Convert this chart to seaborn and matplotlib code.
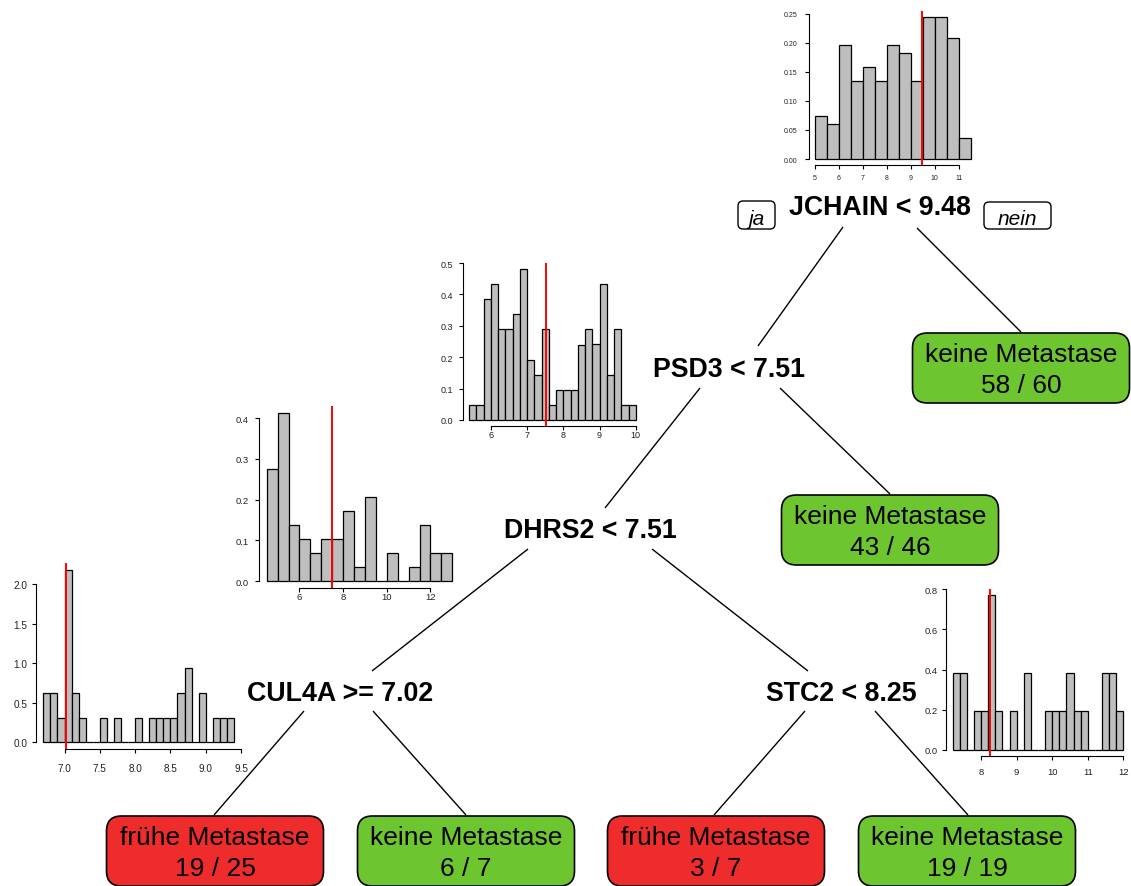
import numpy as np
import pandas as pd
import matplotlib
matplotlib.use("Agg")
import matplotlib.pyplot as plt
from matplotlib.patches import FancyBboxPatch
import seaborn as sns

# ---------------------------------------------------------------------------
# Expression histograms shown at each split: first bin edge, bin width, counts
# ---------------------------------------------------------------------------
jchain_start, jchain_width = 5.0, 0.5
jchain_counts = [6, 5, 16, 11, 13, 11, 16, 15, 11, 20, 20, 17, 3]
jchain_split = 9.48

psd3_start, psd3_width = 5.4, 0.2
psd3_counts = [1, 1, 8, 9, 6, 6, 7, 10, 4, 3, 6, 1, 2, 2, 2, 5, 6, 5, 9, 3, 6, 1, 1]
psd3_split = 7.51

dhrs2_start, dhrs2_width = 4.5, 0.5
dhrs2_counts = [8, 12, 4, 3, 2, 3, 3, 5, 1, 6, 0, 2, 0, 1, 4, 2, 2]
dhrs2_split = 7.51

cul4a_start, cul4a_width = 6.7, 0.1
cul4a_counts = [2, 2, 1, 7, 2, 1, 0, 0, 1, 0, 1, 0, 0, 1, 0, 1, 1, 1, 1, 2, 3, 0, 2,
                0, 1, 1, 1]
cul4a_split = 7.02

stc2_start, stc2_width = 7.2, 0.2
stc2_counts = [2, 2, 0, 1, 1, 4, 1, 0, 1, 0, 2, 0, 0, 1, 1, 1, 2, 1, 1, 0, 0, 2, 2, 1]
stc2_split = 8.25

# Split labels and leaf outcomes
split_labels = ["JCHAIN < 9.48", "PSD3 < 7.51", "DHRS2 < 7.51",
                "CUL4A >= 7.02", "STC2 < 8.25"]
leaf_classes = ["keine Metastase", "keine Metastase", "frühe Metastase",
                "keine Metastase", "frühe Metastase", "keine Metastase"]
leaf_correct = [58, 43, 19, 6, 3, 19]
leaf_total = [60, 46, 25, 7, 7, 19]
branch_labels = ["ja", "nein"]

# Tick labels of the histogram axes
jchain_xticks = ["5", "6", "7", "8", "9", "10", "11"]
jchain_yticks = ["0.00", "0.05", "0.10", "0.15", "0.20", "0.25"]
psd3_xticks = ["6", "7", "8", "9", "10"]
psd3_yticks = ["0.0", "0.1", "0.2", "0.3", "0.4", "0.5"]
dhrs2_xticks = ["6", "8", "10", "12"]
dhrs2_yticks = ["0.0", "0.1", "0.2", "0.3", "0.4"]
cul4a_xticks = ["7.0", "7.5", "8.0", "8.5", "9.0", "9.5"]
cul4a_yticks = ["0.0", "0.5", "1.0", "1.5", "2.0"]
stc2_xticks = ["8", "9", "10", "11", "12"]
stc2_yticks = ["0.0", "0.2", "0.4", "0.6", "0.8"]

# ---------------------------------------------------------------------------
W, H = 1131, 887
sns.set_style("white")
plt.rcParams["font.family"] = ["Liberation Sans", "DejaVu Sans"]

fig = plt.figure(figsize=(W / 100, H / 100), dpi=100)
fig.patch.set_facecolor("white")

# Canvas in pixel units for the tree itself
ax0 = fig.add_axes([0, 0, 1, 1])
ax0.set_xlim(0, W)
ax0.set_ylim(H, 0)
ax0.axis("off")

GREEN = "#6dc52f"
RED = "#ee2c2c"

# Branches (parent -> child)
branches = [
    ((843, 228), (758, 347)),
    ((917, 229), (1021, 333)),
    ((700, 389), (605, 509)),
    ((780, 389), (890, 495)),
    ((528, 550), (372, 672)),
    ((652, 550), (808, 672)),
    ((304, 712), (214, 816)),
    ((373, 712), (466, 816)),
    ((805, 712), (714, 816)),
    ((875, 712), (968, 816)),
]
for (x1, y1), (x2, y2) in branches:
    ax0.plot([x1, x2], [y1, y2], color="black", lw=1.0, solid_capstyle="butt")

# Split labels
split_pos = [(880, 215), (729, 377), (590, 538), (340, 701), (841, 701)]
for lab, (x, y) in zip(split_labels, split_pos):
    ax0.text(x, y, lab, ha="center", va="baseline", fontsize=19.3,
             fontweight="bold", color="black")

# "ja" / "nein" tags at the root
tag_boxes = [(738, 202, 37, 28), (984, 203, 67, 27)]
for lab, (x, y, w, h) in zip(branch_labels, tag_boxes):
    ax0.add_patch(FancyBboxPatch((x, y), w, h,
                                 boxstyle="round,pad=0,rounding_size=5",
                                 fc="white", ec="black", lw=1.0))
    ax0.text(x + w / 2, 225, lab, ha="center", va="baseline", fontsize=15,
             style="italic", color="black")

# Leaves
leaf_pos = [(1021, 334), (890, 496), (215, 817), (466, 817), (716, 817), (967, 817)]
LEAF_W, LEAF_H = 217, 70
for cls, ok, tot, (cx, top) in zip(leaf_classes, leaf_correct, leaf_total, leaf_pos):
    fc = RED if cls.startswith("frühe") else GREEN
    ax0.add_patch(FancyBboxPatch((cx - LEAF_W / 2, top), LEAF_W, LEAF_H,
                                 boxstyle="round,pad=0,rounding_size=15",
                                 fc=fc, ec="black", lw=1.2, zorder=3))
    ax0.text(cx, top + 28, cls, ha="center", va="baseline", fontsize=19,
             color="black", zorder=4)
    ax0.text(cx, top + 59, f"{ok} / {tot}", ha="center", va="baseline",
             fontsize=19, color="black", zorder=4)


# ---------------------------------------------------------------------------
def draw_hist(rect, start, width, counts, split, xticks, yticks, fs, xpad, ypad):
    left, top, right, bottom = rect
    ax = fig.add_axes([left / W, 1 - bottom / H, (right - left) / W, (bottom - top) / H])
    ax.set_facecolor("none")
    counts = np.asarray(counts, dtype=float)
    edges = start + width * np.arange(len(counts) + 1)
    table = pd.DataFrame({"value": edges[:-1] + width / 2, "n": counts})
    sns.histplot(data=table, x="value", weights="n", bins=[float(e) for e in edges],
                 stat="density", color="#bebebe", edgecolor="black",
                 linewidth=0.9, alpha=1, ax=ax)
    ymax = (counts / counts.sum() / width).max()
    span = edges[-1] - edges[0]
    ax.set_xlim(edges[0] - 0.04 * span, edges[-1] + 0.04 * span)
    ax.set_ylim(-0.04 * ymax, 1.04 * ymax)
    ax.axvline(split, color="red", lw=1.4, zorder=5)

    xt = [float(v) for v in xticks]
    yt = [float(v) for v in yticks]
    ax.set_xticks(xt)
    ax.set_xticklabels(xticks)
    ax.set_yticks(yt)
    ax.set_yticklabels(yticks)
    ax.set_xlabel("")
    ax.set_ylabel("")
    for side in ("top", "right"):
        ax.spines[side].set_visible(False)
    for side in ("left", "bottom"):
        ax.spines[side].set_visible(True)
        ax.spines[side].set_linewidth(0.8)
        ax.spines[side].set_color("black")
    ax.spines["bottom"].set_bounds(xt[0], xt[-1])
    ax.spines["left"].set_bounds(yt[0], yt[-1])
    ax.tick_params(axis="both", direction="out", length=3, width=0.8,
                   colors="black", labelsize=fs, labelcolor="#222222")
    ax.tick_params(axis="x", pad=xpad, bottom=True)
    ax.tick_params(axis="y", pad=ypad, left=True)
    ax.grid(False)
    return ax


draw_hist((808.5, 12.4, 976.9, 165.7), jchain_start, jchain_width, jchain_counts,
          jchain_split, jchain_xticks, jchain_yticks, 5.0, 3.7, 4.8)
draw_hist((462.6, 264.0, 642.4, 427.0), psd3_start, psd3_width, psd3_counts,
          psd3_split, psd3_xticks, psd3_yticks, 6.5, 0.0, 3.6)
draw_hist((259.3, 406.8, 459.7, 588.8), dhrs2_start, dhrs2_width, dhrs2_counts,
          dhrs2_split, dhrs2_xticks, dhrs2_yticks, 6.8, 0.3, 4.8)
draw_hist((35.7, 563.6, 241.6, 750.2), cul4a_start, cul4a_width, cul4a_counts,
          cul4a_split, cul4a_xticks, cul4a_yticks, 7.2, 7.0, 3.1)
draw_hist((945.9, 590.3, 1130.1, 756.9), stc2_start, stc2_width, stc2_counts,
          stc2_split, stc2_xticks, stc2_yticks, 6.8, 4.8, 3.1)

fig.savefig("out.png", dpi=100, facecolor="white")
